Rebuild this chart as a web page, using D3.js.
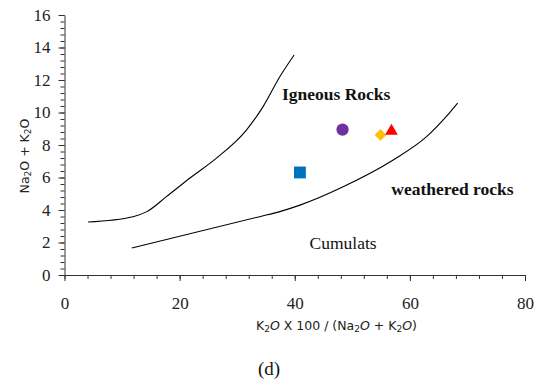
<!DOCTYPE html>
<html>
<head>
<meta charset="utf-8">
<script src="https://cdn.jsdelivr.net/npm/d3@7"></script>
<style>
  body { margin: 0; background: #fff; }
  svg { display: block; }
  .tick text { font-family: "Liberation Serif", "Times New Roman", serif; font-size: 17px; fill: #222; }
  .domain, .tick line { stroke: #333; }
</style>
</head>
<body>
<div id="chart"></div>
<script>
// boundary curves of the diagram (x = K2O*100/(Na2O+K2O), y = Na2O+K2O)
const upperCurve = [
    [4.1, 3.26], [11.9, 3.59], [14.3, 3.9], [17.7, 4.82], [21.8, 5.97],
    [26.4, 7.19], [31.6, 8.92], [34.5, 10.36], [37.4, 12.2], [39.9, 13.54]
];
const lowerCurve = [
    [11.7, 1.66], [33.9, 3.59], [37.4, 3.9], [40.9, 4.3], [48.4, 5.43],
    [57.1, 7.08], [62.9, 8.51], [66.3, 9.74], [68.3, 10.58]
];

// samples
const sampleX = [40.9, 48.3, 54.9, 56.8];
const sampleY = [6.31, 8.95, 8.62, 8.85];
const sampleShape = ['square', 'circle', 'diamond', 'triangle'];
const sampleColor = ['#0070C0', '#7030A0', '#FFC000', '#FF0000'];

const xTicks = [0, 20, 40, 60, 80];
const yTicks = [0, 2, 4, 6, 8, 10, 12, 14, 16];

const fieldLabels = [
    { text: 'Igneous Rocks', x: 47.2, y: 10.8, bold: true },
    { text: 'weathered rocks', x: 67.4, y: 4.9, bold: true },
    { text: 'Cumulats', x: 48.4, y: 1.6, bold: false }
];

const W = 536, H = 383;
const _MARGIN = { top: 15, right: 11, bottom: 108, left: 64.5 };
const plotW = W - _MARGIN.left - _MARGIN.right;
const plotH = H - _MARGIN.top - _MARGIN.bottom;

const svg = d3.select('#chart').append('svg')
    .attr('width', W)
    .attr('height', H);

const g = svg.append('g')
    .attr('transform', 'translate(' + _MARGIN.left + ',' + _MARGIN.top + ')');

const x = d3.scaleLinear().domain([0, 80]).range([0, plotW]);
const y = d3.scaleLinear().domain([0, 16]).range([plotH, 0]);

// minor ticks first
g.append('g')
    .attr('transform', 'translate(0,' + plotH + ')')
    .call(d3.axisBottom(x).tickValues(d3.range(0, 80.01, 4)).tickSize(4).tickFormat(''))
    .call(a => a.select('.domain').remove());
g.append('g')
    .call(d3.axisLeft(y).tickValues(d3.range(0, 16.01, 0.4)).tickSize(4).tickFormat(''))
    .call(a => a.select('.domain').remove());

// major axes
g.append('g')
    .attr('transform', 'translate(0,' + plotH + ')')
    .call(d3.axisBottom(x).tickValues(xTicks).tickSize(6).tickSizeOuter(0).tickPadding(16));
g.append('g')
    .call(d3.axisLeft(y).tickValues(yTicks).tickSize(6).tickSizeOuter(0).tickPadding(8));

const line = d3.line()
    .x(d => x(d[0]))
    .y(d => y(d[1]))
    .curve(d3.curveMonotoneX);

[upperCurve, lowerCurve].forEach(c => {
    g.append('path')
        .datum(c)
        .attr('d', line)
        .attr('fill', 'none')
        .attr('stroke', '#000')
        .attr('stroke-width', 1.1);
});

const symbolType = {
    square: d3.symbolSquare,
    circle: d3.symbolCircle,
    diamond: d3.symbolDiamond2,
    triangle: d3.symbolTriangle
};
const symbolSize = { square: 140, circle: 118, diamond: 90, triangle: 70 };

sampleX.forEach((sx, i) => {
    const shape = sampleShape[i];
    g.append('path')
        .attr('d', d3.symbol().type(symbolType[shape]).size(symbolSize[shape])())
        .attr('transform', 'translate(' + x(sx) + ',' + y(sampleY[i]) + ')')
        .attr('fill', sampleColor[i]);
});

fieldLabels.forEach(l => {
    g.append('text')
        .attr('x', x(l.x))
        .attr('y', y(l.y))
        .attr('text-anchor', 'middle')
        .attr('font-family', '"Liberation Serif", "Times New Roman", serif')
        .attr('font-size', 17.5)
        .attr('font-weight', l.bold ? 'bold' : 'normal')
        .attr('fill', '#111')
        .text(l.text);
});

// axis titles: subscript 2, italic O
function chemText(sel, parts) {
    parts.forEach(p => {
        const t = sel.append('tspan').text(p.t);
        if (p.sub) t.attr('font-size', 9).attr('dy', 2);
        if (p.after) t.attr('dy', -2);
        if (p.it) t.attr('font-style', 'italic');
    });
}

const xt = svg.append('text')
    .attr('x', 336.5)
    .attr('y', 330)
    .attr('text-anchor', 'middle')
    .attr('font-family', '"DejaVu Sans", sans-serif')
    .attr('font-size', 12.5)
    .attr('fill', '#222');
chemText(xt, [
    { t: 'K' }, { t: '2', sub: true }, { t: 'O', after: true, it: true },
    { t: ' X 100 / (Na' }, { t: '2', sub: true }, { t: 'O', after: true, it: true },
    { t: ' + K' }, { t: '2', sub: true }, { t: 'O', after: true, it: true }, { t: ')' }
]);

const yt = svg.append('text')
    .attr('transform', 'translate(29,156) rotate(-90)')
    .attr('text-anchor', 'middle')
    .attr('font-family', '"DejaVu Sans", sans-serif')
    .attr('font-size', 12.5)
    .attr('fill', '#222');
chemText(yt, [
    { t: 'Na' }, { t: '2', sub: true }, { t: 'O + K', after: true },
    { t: '2', sub: true }, { t: 'O', after: true }
]);

svg.append('text')
    .attr('x', 269)
    .attr('y', 375)
    .attr('text-anchor', 'middle')
    .attr('font-family', '"Liberation Serif", "Times New Roman", serif')
    .attr('font-size', 19)
    .attr('fill', '#111')
    .text('(d)');
</script>
</body>
</html>
